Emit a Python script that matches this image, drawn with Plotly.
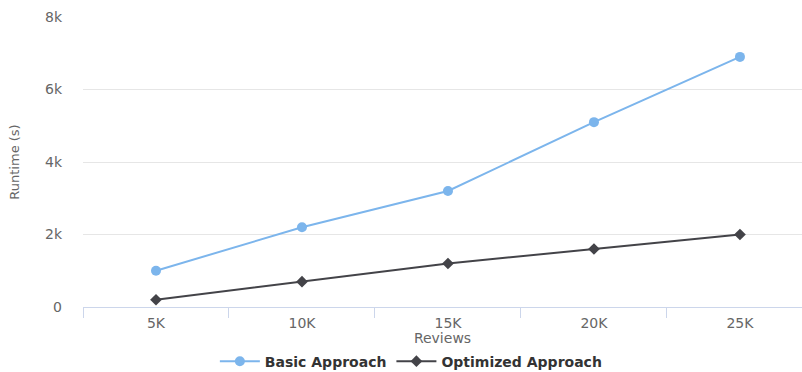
import plotly.graph_objects as go

reviews = ["5K", "10K", "15K", "20K", "25K"]
basic_runtime = [1000, 2200, 3200, 5100, 6900]
optimized_runtime = [200, 700, 1200, 1600, 2000]

FONT = "DejaVu Sans"

fig = go.Figure()
fig.add_trace(go.Scatter(
    x=reviews, y=basic_runtime, name="Basic Approach", mode="lines+markers",
    line=dict(color="#7cb5ec", width=2),
    marker=dict(symbol="circle", size=10, color="#7cb5ec"),
))
fig.add_trace(go.Scatter(
    x=reviews, y=optimized_runtime, name="Optimized Approach", mode="lines+markers",
    line=dict(color="#434348", width=2),
    marker=dict(symbol="diamond", size=9, color="#434348"),
))

fig.update_layout(
    width=802, height=372,
    margin=dict(l=83, r=0, t=17, b=65),
    paper_bgcolor="white", plot_bgcolor="white",
    font=dict(family=FONT, color="#666666", size=12),
    showlegend=True,
    legend=dict(
        orientation="h", x=0.456, xanchor="center",
        yref="container", y=0.028, yanchor="middle",
        font=dict(family=FONT, size=14, color="#333333", weight="bold"),
        itemwidth=40, bgcolor="rgba(0,0,0,0)",
    ),
)

fig.update_xaxes(
    type="category", range=[-0.5, 4.425], automargin=False,
    tickson="boundaries", ticks="outside", ticklen=10, tickcolor="#ccd6eb",
    showline=True, linecolor="#ccd6eb", linewidth=1,
    showgrid=False, zeroline=False, ticklabelstandoff=3,
    tickfont=dict(size=14, color="#666666"),
    title=dict(text="Reviews", font=dict(size=14, color="#666666"), standoff=10),
)
fig.update_yaxes(
    range=[0, 8000], tickvals=[0, 2000, 4000, 6000, 8000], automargin=False,
    ticktext=["0", "2k", "4k", "6k", "8k"],
    showgrid=True, gridcolor="#e6e6e6", gridwidth=1, zeroline=False,
    showline=False, ticks="", ticklabelstandoff=20,
    tickfont=dict(size=14, color="#666666"),
    title=dict(text="Runtime (s)", font=dict(size=13, color="#666666"), standoff=22),
)

fig.write_html("out.html")
